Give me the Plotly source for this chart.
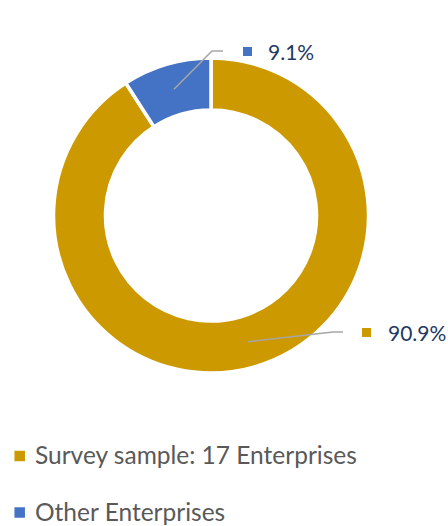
import math
import plotly.graph_objects as go

# Share of enterprises
labels = ["Survey sample: 17 Enterprises", "Other Enterprises"]
shares = [90.9, 9.1]
colors = ["#CC9900", "#4472C4"]
label_texts = [f"{v:.1f}%" for v in shares]

W, H = 448, 526
CX, CY, R = 211.0, 215.5, 157.5
HOLE = 0.67


def px(x):
    return x / W


def py(y):
    return 1 - y / H


fig = go.Figure(
    go.Pie(
        labels=labels,
        values=shares,
        hole=HOLE,
        sort=False,
        direction="clockwise",
        rotation=0,
        marker=dict(colors=colors, line=dict(color="white", width=3.5)),
        textinfo="none",
        hoverinfo="label+percent",
        showlegend=False,
        domain=dict(x=[px(CX - R), px(CX + R)], y=[py(CY + R), py(CY - R)]),
    )
)

shapes = []
annotations = []

# Data labels: leader line from the middle of each ring segment to the label
label_pos = [
    # (elbow x, elbow y, line end x, marker centre x, text x, y)
    (333, 332, 343, 366.5, 386, 332.5),
    (212, 51, 223, 247.5, 266, 51.5),
]
total = sum(shares)
start = 0.0
r_mid = R * (1 + HOLE) / 2
for i, v in enumerate(shares):
    mid = math.radians((start + v / 2) / total * 360)
    start += v
    sx = CX + r_mid * math.sin(mid)
    sy = CY - r_mid * math.cos(mid)
    ex, ey, lx, mx, tx, ty = label_pos[i]
    shapes.append(dict(
        type="path", xref="paper", yref="paper",
        path=f"M {px(sx)} {py(sy)} L {px(ex)} {py(ey)} L {px(lx)} {py(ey)}",
        line=dict(color="#A6A6A6", width=1.5),
    ))
    s = 4.5
    shapes.append(dict(
        type="rect", xref="paper", yref="paper",
        x0=px(mx - s), x1=px(mx + s), y0=py(ty + s), y1=py(ty - s),
        fillcolor=colors[i], line=dict(width=0),
    ))
    annotations.append(dict(
        x=px(tx), y=py(ty), xref="paper", yref="paper",
        xanchor="left", yanchor="middle", showarrow=False,
        text=label_texts[i],
        font=dict(family="Lato", size=21, color="#1F3864"),
    ))

# Legend
legend_rows = [456, 512.5]
for i, name in enumerate(labels):
    yy = legend_rows[i]
    s = 5.25
    shapes.append(dict(
        type="rect", xref="paper", yref="paper",
        x0=px(19.7 - s), x1=px(19.7 + s), y0=py(yy + s), y1=py(yy - s),
        fillcolor=colors[i], line=dict(width=0),
    ))
    annotations.append(dict(
        x=px(33), y=py(yy - 1.5), xref="paper", yref="paper",
        xanchor="left", yanchor="middle", showarrow=False,
        text=name,
        font=dict(family="Lato", size=24.5, color="#595959"),
    ))

fig.update_layout(
    width=W, height=H,
    margin=dict(l=0, r=0, t=0, b=0),
    paper_bgcolor="white",
    plot_bgcolor="white",
    shapes=shapes,
    annotations=annotations,
)

fig.write_html("out.html")
